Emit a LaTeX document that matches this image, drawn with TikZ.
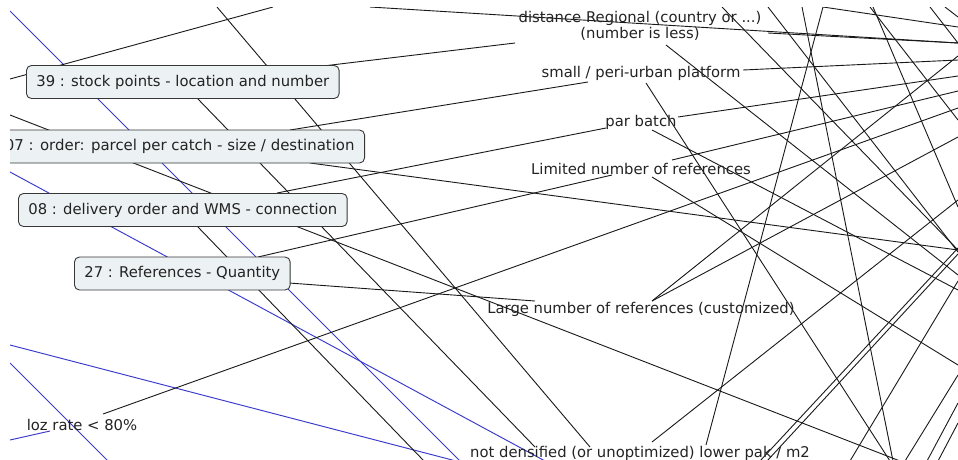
\documentclass[tikz,border=0pt]{standalone}
\usepackage{fontspec}
\setmainfont{DejaVu Sans}
\definecolor{bluel}{RGB}{58,58,205}
\definecolor{boxfill}{RGB}{236,241,243}
\definecolor{boxedge}{RGB}{55,55,55}
\definecolor{txt}{RGB}{35,35,35}
\newcommand\fsz{\fontsize{14.8}{16.5}\selectfont}
\newcommand\fszw{\fontsize{14.95}{16.5}\selectfont}
\tikzset{
  blk/.style={draw=black!90, line width=0.9pt},
  blu/.style={draw=bluel, line width=0.95pt},
  topicbox/.style={draw=boxedge, fill=boxfill, rounded corners=5pt, line width=0.9pt,
    inner xsep=10pt, inner ysep=0pt, minimum height=33pt, font=\fsz, text=txt},
  lbl/.style={font=\fsz, text=txt, inner sep=0pt, align=center},
}
\begin{document}
\begin{tikzpicture}[x=1pt,y=-1pt]
\useasboundingbox (0,0) rectangle (958,459);
\fill[white] (0,0) rectangle (958,459);
\begin{scope}
\clip (10,7) rectangle (958,459);
% ---- end points (hidden nodes lie outside the frame)
\coordinate (b1s) at (10,11);   \coordinate (b1e) at (460,461);
\coordinate (b2s) at (10,172);  \coordinate (b2e) at (545,461);
\coordinate (b3s) at (10,345);  \coordinate (b3e) at (460,462);
\coordinate (b4s) at (10,363);  \coordinate (b4e) at (108,461);
\coordinate (b5s) at (10,440);  \coordinate (b5e) at (50,431);
\coordinate (k1s) at (10,79);   \coordinate (k1e) at (273,7);
\coordinate (kas) at (217,7);   \coordinate (kae) at (590,447);
\coordinate (k2s) at (10,115);  \coordinate (k2e) at (900,461);
\coordinate (k3s) at (310,163); \coordinate (k3e) at (958,250);
\coordinate (k4s) at (289,283); \coordinate (k4e) at (535,301);
\coordinate (k5s) at (277,193); \coordinate (k5e) at (606,128);
\coordinate (k6s) at (323,66);  \coordinate (k6e) at (515,43);
\coordinate (k7s) at (290,130); \coordinate (k7e) at (588,82);
\coordinate (k8s) at (258,257); \coordinate (k8e) at (612,175);
\coordinate (k9s) at (103,414); \coordinate (k9e) at (958,108);
\coordinate (k10s) at (370,7);  \coordinate (k10e) at (958,43);
\coordinate (k11s) at (768,33); \coordinate (k11e) at (958,43);
\coordinate (k12s) at (823,7);  \coordinate (k12e) at (958,27);
\coordinate (k13s) at (743,70); \coordinate (k13e) at (958,60);
\coordinate (k14s) at (678,117);\coordinate (k14e) at (958,76);
\coordinate (k15s) at (672,160);\coordinate (k15e) at (958,91);
\coordinate (m1s) at (197,98);  \coordinate (m1e) at (535,447);
\coordinate (m2s) at (197,226); \coordinate (m2e) at (424,461);
\coordinate (lgs) at (652,301); \coordinate (l1ae) at (958,137); \coordinate (l1be) at (958,56);
\coordinate (nls) at (666,45);  \coordinate (nle) at (958,275);
\coordinate (sps) at (646,83);  \coordinate (spe) at (890,461);
\coordinate (pbs) at (652,130); \coordinate (pbe) at (958,290);
\coordinate (lms) at (652,177); \coordinate (lme) at (958,365);
\coordinate (lds) at (823,7);   \coordinate (lde) at (706,445);
\coordinate (lcs) at (802,7);   \coordinate (lce) at (893,461);
\coordinate (las) at (722,7);   \coordinate (lae) at (958,250);
\coordinate (lbs) at (768,7);   \coordinate (lbe) at (958,252);
\coordinate (les) at (873,7);   \coordinate (lee) at (958,207);
\coordinate (lfs) at (870,7);   \coordinate (lfe) at (958,120);
\coordinate (lgs2) at (930,7);  \coordinate (lge) at (958,43);
\coordinate (lhs) at (945,7);   \coordinate (lhe) at (958,17);
\coordinate (nds) at (652,442); \coordinate (nde) at (958,200);
\coordinate (p1s) at (760,461); \coordinate (p1e) at (958,248);
\coordinate (p2s) at (767,461); \coordinate (p2e) at (958,254);
\coordinate (q1s) at (850,461); \coordinate (q1e) at (958,281);
\coordinate (q2s) at (905,461); \coordinate (q2e) at (958,375);
\coordinate (q3s) at (927,461); \coordinate (q3e) at (958,403);
\coordinate (q4s) at (938,461); \coordinate (q4e) at (958,423);
% ---- blue connectors
\draw[blu] (b1s) -- (b1e);
\draw[blu] (b2s) -- (b2e);
\draw[blu] (b3s) -- (b3e);
\draw[blu] (b4s) -- (b4e);
\draw[blu] (b5s) -- (b5e);
% ---- black connectors
\draw[blk] (k1s) -- (k1e);
\draw[blk] (kas) -- (kae);
\draw[blk] (k2s) -- (k2e);
\draw[blk] (k3s) -- (k3e);
\draw[blk] (k4s) -- (k4e);
\draw[blk] (k5s) -- (k5e);
\draw[blk] (k6s) -- (k6e);
\draw[blk] (k7s) -- (k7e);
\draw[blk] (k8s) -- (k8e);
\draw[blk] (k9s) -- (k9e);
\draw[blk] (k10s) -- (k10e);
\draw[blk] (k11s) -- (k11e);
\draw[blk] (k12s) -- (k12e);
\draw[blk] (k13s) -- (k13e);
\draw[blk] (k14s) -- (k14e);
\draw[blk] (k15s) -- (k15e);
\draw[blk] (m1s) -- (m1e);
\draw[blk] (m2s) -- (m2e);
\draw[blk] (lgs) -- (l1ae);
\draw[blk] (lgs) -- (l1be);
\draw[blk] (nls) -- (nle);
\draw[blk] (sps) -- (spe);
\draw[blk] (pbs) -- (pbe);
\draw[blk] (lms) -- (lme);
\draw[blk] (lds) -- (lde);
\draw[blk] (lcs) -- (lce);
\draw[blk] (las) -- (lae);
\draw[blk] (lbs) -- (lbe);
\draw[blk] (les) -- (lee);
\draw[blk] (lfs) -- (lfe);
\draw[blk] (lgs2) -- (lge);
\draw[blk] (lhs) -- (lhe);
\draw[blk] (nds) -- (nde);
\draw[blk] (p1s) -- (p1e);
\draw[blk] (p2s) -- (p2e);
\draw[blk] (q1s) -- (q1e);
\draw[blk] (q2s) -- (q2e);
\draw[blk] (q3s) -- (q3e);
\draw[blk] (q4s) -- (q4e);
% ---- topic boxes
\node[topicbox, anchor=west] (t39) at (26,82) {39 : stock points - location and number};
\node[topicbox, anchor=east, font=\fszw] (t07) at (365,146.5) {07 : order: parcel per catch - size / destination};
\node[topicbox, anchor=west] (t08) at (18,210) {08 : delivery order and WMS - connection};
\node[topicbox, anchor=west] (t27) at (74,273.5) {27 : References - Quantity};
% ---- plain labels
\node[lbl] (dist) at (640,26) {distance Regional (country or ...)\\(number is less)};
\node[lbl] (small) at (641,73) {small / peri-urban platform};
\node[lbl] (par) at (641,122) {par batch};
\node[lbl] (lim) at (641,169) {Limited number of references};
\node[lbl] (large) at (641,309) {Large number of references (customized)};
\node[lbl] (dens) at (640,453) {not densified (or unoptimized) lower pak / m2};
\node[lbl] (loz) at (82,425) {loz rate < 80\%};
\end{scope}
\end{tikzpicture}
\end{document}
